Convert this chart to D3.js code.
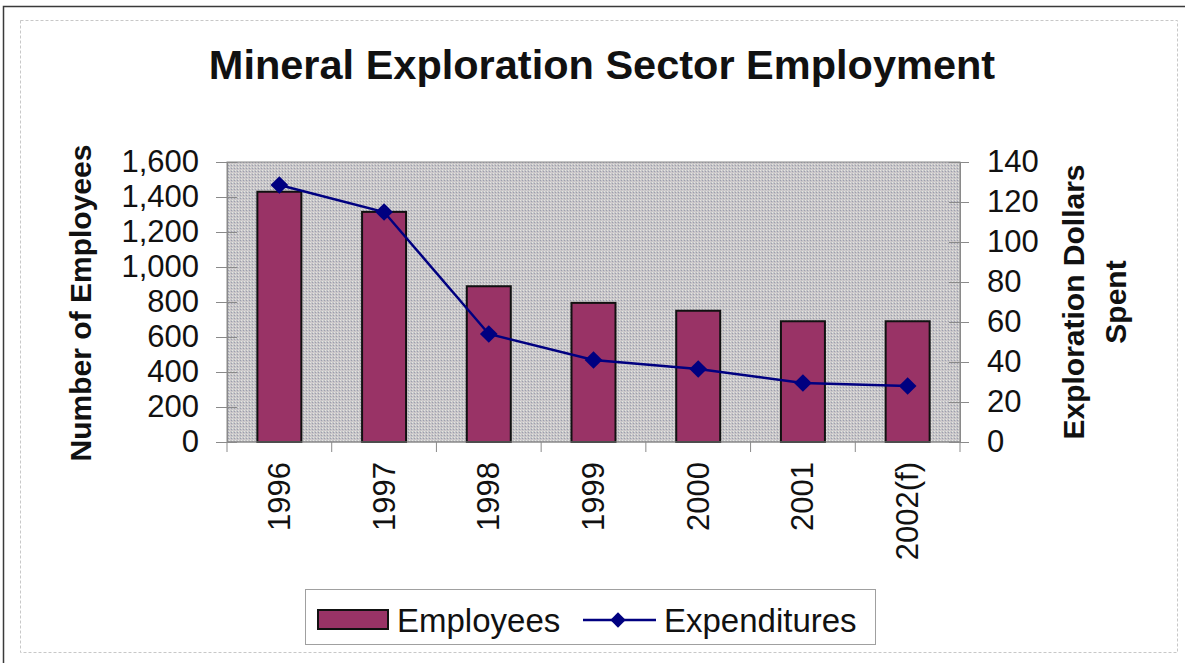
<!DOCTYPE html>
<html><head><meta charset="utf-8">
<script src="https://cdn.jsdelivr.net/npm/d3@7"></script>
<style>
html,body{margin:0;padding:0;background:#fff;}
svg{display:block;font-family:"Liberation Sans",Arial,sans-serif;}
</style></head>
<body>
<svg id="c" width="1185" height="663"></svg>
<script>
// ---- data ----
const categories = ["1996","1997","1998","1999","2000","2001","2002(f)"];
const employees = [1430, 1315, 890, 795, 750, 690, 690];
const expenditures = [128.5, 115, 54, 41, 36.5, 29.5, 28];
const leftTicks = [0,200,400,600,800,1000,1200,1400,1600];
const rightTicks = [0,20,40,60,80,100,120,140];
const chartTitle = "Mineral Exploration Sector Employment";
const leftTitle = "Number of Employees";
const rightTitle = ["Exploration Dollars","Spent"];
const legendLabels = ["Employees","Expenditures"];

const svg = d3.select("#c");
const L = 227, R = 960, T = 162, B = 442;

// frames
svg.append("path").attr("d","M3.5,663 V6.5 H1185").attr("fill","none").attr("stroke","#3a3a3a").attr("stroke-width",1.5);
svg.append("rect").attr("x",20.5).attr("y",20.5).attr("width",1157).attr("height",632)
  .attr("fill","none").attr("stroke","#c8c8c8").attr("stroke-width",1).attr("stroke-dasharray","3,2");

// pattern
const defs = svg.append("defs");
const pat = defs.append("pattern").attr("id","dots").attr("width",3).attr("height",3).attr("patternUnits","userSpaceOnUse");
pat.append("rect").attr("width",3).attr("height",3).attr("fill","#c6c6c6");
pat.append("rect").attr("x",0).attr("y",0).attr("width",1).attr("height",1).attr("fill","#9c9cb0");
pat.append("rect").attr("x",1).attr("y",2).attr("width",1).attr("height",1).attr("fill","#e4e4e4");
pat.append("rect").attr("x",2).attr("y",1).attr("width",1).attr("height",1).attr("fill","#d6cbd2");

// scales
const x = d3.scaleBand().domain(categories).range([L,R]).paddingInner(0.58).paddingOuter(0.29);
const yL = d3.scaleLinear().domain([0,1600]).range([B,T]);
const yR = d3.scaleLinear().domain([0,140]).range([B,T]);

// plot area
svg.append("rect").attr("x",L).attr("y",T).attr("width",R-L).attr("height",B-T)
  .attr("fill","url(#dots)").attr("stroke","#8a8a8a").attr("stroke-width",1);

// bars
svg.append("g").selectAll("rect").data(categories).join("rect")
  .attr("x",d=>x(d)).attr("width",x.bandwidth())
  .attr("y",(d,i)=>yL(employees[i])).attr("height",(d,i)=>B-yL(employees[i]))
  .attr("fill","#993366").attr("stroke","#111").attr("stroke-width",2);

// line
const cx = d => x(d)+x.bandwidth()/2;
const line = d3.line().x((d,i)=>cx(categories[i])).y(d=>yR(d));
svg.append("path").datum(expenditures).attr("d",line).attr("fill","none")
  .attr("stroke","#000080").attr("stroke-width",2.5);
svg.append("g").selectAll("path").data(expenditures).join("path")
  .attr("d",d3.symbol(d3.symbolDiamond2,200))
  .attr("transform",(d,i)=>`translate(${cx(categories[i])},${yR(d)})`)
  .attr("fill","#000080");

// left axis
const gl = svg.append("g").attr("transform",`translate(${L},0)`)
  .call(d3.axisLeft(yL).tickValues(leftTicks).tickFormat(d3.format(",")).tickSizeInner(10).tickSizeOuter(0).tickPadding(18));
gl.select(".domain").attr("stroke","#8a8a8a");
gl.selectAll(".tick line").attr("x2",-11).attr("x1",10).attr("stroke","#8a8a8a");
gl.selectAll(".tick text").attr("font-size",31).attr("fill","#111").attr("font-family","Liberation Sans, Arial, sans-serif");

// right axis
const gr = svg.append("g").attr("transform",`translate(${R},0)`)
  .call(d3.axisRight(yR).tickValues(rightTicks).tickSizeInner(9).tickSizeOuter(0).tickPadding(18));
gr.select(".domain").attr("stroke","#8a8a8a");
gr.selectAll(".tick line").attr("x1",-11).attr("x2",9).attr("stroke","#8a8a8a");
gr.selectAll(".tick text").attr("font-size",31).attr("fill","#111").attr("font-family","Liberation Sans, Arial, sans-serif");

// x axis line + boundary ticks
svg.append("line").attr("x1",L).attr("x2",R).attr("y1",B).attr("y2",B).attr("stroke","#8a8a8a");
const gap = (x.step()-x.bandwidth())/2;
const bounds = categories.map(d=>x(d)-gap).concat([x(categories[categories.length-1])+x.bandwidth()+gap]);
svg.append("g").selectAll("line").data(bounds).join("line")
  .attr("x1",d=>d).attr("x2",d=>d).attr("y1",B).attr("y2",B+10).attr("stroke","#8a8a8a");
svg.append("g").selectAll("text").data(categories).join("text")
  .attr("transform",d=>`translate(${cx(d)},${B+20}) rotate(-90)`)
  .attr("text-anchor","end").attr("dominant-baseline","central")
  .attr("font-size",31).attr("fill","#111").text(d=>d);

// titles
svg.append("text").attr("x",602).attr("y",79).attr("text-anchor","middle")
  .attr("font-size",41.5).attr("font-weight","bold").attr("fill","#111").text(chartTitle);
svg.append("text").attr("transform","translate(80,303) rotate(-90)").attr("text-anchor","middle")
  .attr("dominant-baseline","central").attr("font-size",30).attr("font-weight","bold").attr("fill","#111").text(leftTitle);
svg.append("g").selectAll("text").data(rightTitle).join("text")
  .attr("transform",(d,i)=>`translate(${1073+i*42},302) rotate(-90)`).attr("text-anchor","middle")
  .attr("dominant-baseline","central").attr("font-size",30).attr("font-weight","bold").attr("fill","#111").text(d=>d);

// legend
const lg = svg.append("g");
lg.append("rect").attr("x",305.5).attr("y",589.5).attr("width",570).attr("height",55)
  .attr("fill","#fff").attr("stroke","#a0a0a0").attr("stroke-width",1);
lg.append("rect").attr("x",318).attr("y",610).attr("width",70).attr("height",19)
  .attr("fill","#993366").attr("stroke","#111").attr("stroke-width",2);
lg.append("text").attr("x",397).attr("y",620).attr("dominant-baseline","central")
  .attr("font-size",33).attr("fill","#111").text(legendLabels[0]);
lg.append("line").attr("x1",583).attr("x2",656).attr("y1",620).attr("y2",620).attr("stroke","#000080").attr("stroke-width",2.5);
lg.append("path").attr("d",d3.symbol(d3.symbolDiamond2,150)).attr("transform","translate(618,620)").attr("fill","#000080");
lg.append("text").attr("x",664).attr("y",620).attr("dominant-baseline","central")
  .attr("font-size",33).attr("fill","#111").text(legendLabels[1]);
</script>
</body></html>
